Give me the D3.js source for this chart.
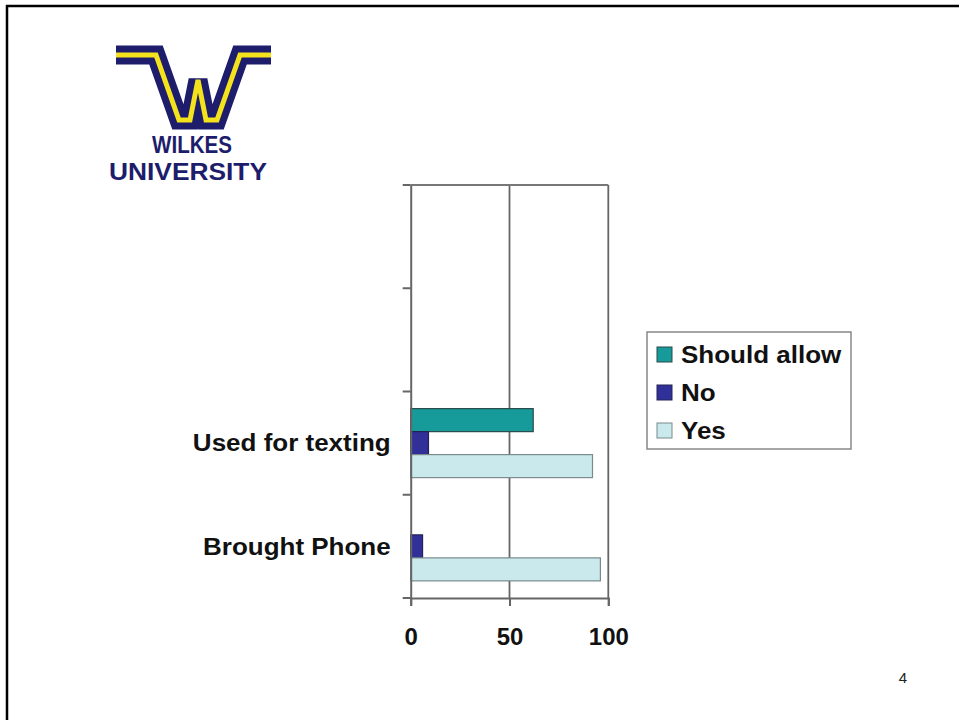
<!DOCTYPE html>
<html>
<head>
<meta charset="utf-8">
<script src="https://cdn.jsdelivr.net/npm/d3@7"></script>
<style>
  body { margin: 0; background: #fff; }
  svg { display: block; }
</style>
</head>
<body>
<script>
'use strict';

// chart data
var categories = ['', ' ', 'Used for texting', 'Brought Phone'];
var seriesNames = ['Should allow', 'No', 'Yes'];
var shouldAllow = [null, null, 62, 0];
var no = [null, null, 9, 6];
var yes = [null, null, 92, 96];
var xTicks = [0, 50, 100];

var seriesColors = {'Should allow': '#179a9a', 'No': '#303098', 'Yes': '#c9e9ec'};
var seriesStroke = {'Should allow': '#2a4a4a', 'No': '#222255', 'Yes': '#7a8a8c'};

var width = 959, height = 720;

var svg = d3.select('body').append('svg')
    .attr('width', width)
    .attr('height', height);

// stretch text a little wider, the slide image is squeezed horizontally
function stretch(sel, k) {
    sel.each(function () {
        var w = this.getComputedTextLength();
        d3.select(this).attr('textLength', w * k).attr('lengthAdjust', 'spacingAndGlyphs');
    });
}

// slide frame
svg.append('line').attr('x1', 6).attr('x2', width).attr('y1', 6).attr('y2', 6)
    .attr('stroke', '#000').attr('stroke-width', 2.5);
svg.append('line').attr('x1', 7).attr('x2', 7).attr('y1', 5).attr('y2', height)
    .attr('stroke', '#000').attr('stroke-width', 2.5);

// logo
var logo = svg.append('g').attr('class', 'logo');
var wPoints = [[116, 55], [156, 55], [179, 120], [190, 120], [198, 80],
               [206, 120], [217, 120], [240, 55], [271, 55]];
var wLine = d3.line();
logo.append('path').attr('d', wLine(wPoints))
    .attr('fill', 'none').attr('stroke', '#1d1d6c').attr('stroke-width', 19)
    .attr('stroke-linejoin', 'miter').attr('stroke-miterlimit', 2.2);
logo.append('path').attr('d', wLine(wPoints))
    .attr('fill', 'none').attr('stroke', '#f4e21c').attr('stroke-width', 5)
    .attr('stroke-linejoin', 'miter').attr('stroke-miterlimit', 2.2);
logo.append('text').attr('x', 192).attr('y', 153)
    .attr('text-anchor', 'middle')
    .attr('font-family', 'Liberation Sans Narrow, Liberation Sans, Arial, sans-serif')
    .attr('font-weight', 'bold').attr('font-size', 23)
    .attr('fill', '#1d1d6c')
    .attr('textLength', 80).attr('lengthAdjust', 'spacingAndGlyphs')
    .text('WILKES');
logo.append('text').attr('x', 188).attr('y', 180)
    .attr('text-anchor', 'middle')
    .attr('font-family', 'Liberation Sans Narrow, Liberation Sans, Arial, sans-serif')
    .attr('font-weight', 'bold').attr('font-size', 23)
    .attr('fill', '#1d1d6c')
    .attr('textLength', 158).attr('lengthAdjust', 'spacingAndGlyphs')
    .text('UNIVERSITY');

// scales
var x = d3.scaleLinear().domain([0, 100]).range([410.7, 608.3]);
var y = d3.scaleBand().domain(categories).range([185, 598]);
var ySeries = d3.scaleBand().domain(seriesNames).range([0, 69]);

var chart = svg.append('g');

// gridlines
chart.selectAll('.grid')
    .data(xTicks.slice(1))
    .enter()
    .append('line')
    .attr('x1', function (d) { return x(d); })
    .attr('x2', function (d) { return x(d); })
    .attr('y1', 185).attr('y2', 598)
    .attr('stroke', '#666').attr('stroke-width', 1.8);

// top border of plot area
chart.append('line')
    .attr('x1', x(0)).attr('x2', x(100))
    .attr('y1', 185).attr('y2', 185)
    .attr('stroke', '#777').attr('stroke-width', 1.8);

// bars
var rows = [];
categories.forEach(function (c, i) {
    var vals = [shouldAllow[i], no[i], yes[i]];
    seriesNames.forEach(function (s, j) {
        if (vals[j]) rows.push({category: c, series: s, value: vals[j]});
    });
});

chart.selectAll('.bar')
    .data(rows)
    .enter()
    .append('rect')
    .attr('x', x(0))
    .attr('y', function (d) {
        return y(d.category) + (y.bandwidth() - 69) / 2 + ySeries(d.series);
    })
    .attr('width', function (d) { return x(d.value) - x(0); })
    .attr('height', ySeries.bandwidth())
    .attr('fill', function (d) { return seriesColors[d.series]; })
    .attr('stroke', function (d) { return seriesStroke[d.series]; })
    .attr('stroke-width', 1.2);

// y axis
var yAxis = d3.axisLeft(y).tickSize(0).tickFormat('');
var yg = chart.append('g').attr('transform', 'translate(' + x(0) + ',0)').call(yAxis);
yg.select('.domain').attr('stroke', '#666').attr('stroke-width', 2);
var bounds = categories.map(function (c) { return y(c); }).concat([598]);
chart.selectAll('.ytick')
    .data(bounds)
    .enter()
    .append('line')
    .attr('x1', x(0) - 8).attr('x2', x(0))
    .attr('y1', function (d) { return d; })
    .attr('y2', function (d) { return d; })
    .attr('stroke', '#666').attr('stroke-width', 2);

var catLabels = chart.selectAll('.cat')
    .data(categories)
    .enter()
    .append('text')
    .attr('x', x(0) - 20)
    .attr('y', function (d) { return y(d) + y.bandwidth() / 2; })
    .attr('dy', '0.36em')
    .attr('text-anchor', 'end')
    .attr('font-family', 'Liberation Sans, Arial, sans-serif')
    .attr('font-weight', 'bold')
    .attr('font-size', 23)
    .attr('fill', '#111')
    .text(function (d) { return d; });
stretch(catLabels.filter(function (d) { return d.trim() !== ''; }), 1.13);

// x axis
var xAxis = d3.axisBottom(x).tickValues(xTicks).tickSize(8).tickPadding(22);
var xg = chart.append('g').attr('transform', 'translate(0,598)').call(xAxis);
xg.select('.domain').attr('stroke', '#666').attr('stroke-width', 2);
xg.selectAll('.tick line').attr('stroke', '#666').attr('stroke-width', 2);
xg.selectAll('.tick text')
    .attr('font-family', 'Liberation Sans, Arial, sans-serif')
    .attr('font-weight', 'bold')
    .attr('font-size', 24)
    .attr('fill', '#111');

// legend
var legend = svg.append('g').attr('transform', 'translate(647,332)');
legend.append('rect')
    .attr('width', 204).attr('height', 117)
    .attr('fill', '#fff').attr('stroke', '#888').attr('stroke-width', 1.5);
var items = legend.selectAll('.item')
    .data(seriesNames)
    .enter()
    .append('g')
    .attr('transform', function (d, i) { return 'translate(10,' + (15 + i * 38) + ')'; });
items.append('rect')
    .attr('width', 15).attr('height', 15)
    .attr('fill', function (d) { return seriesColors[d]; })
    .attr('stroke', function (d) { return seriesStroke[d]; })
    .attr('stroke-width', 1);
var legendText = items.append('text')
    .attr('x', 24).attr('y', 16)
    .attr('font-family', 'Liberation Sans, Arial, sans-serif')
    .attr('font-weight', 'bold')
    .attr('font-size', 23)
    .attr('fill', '#111')
    .text(function (d) { return d; });
stretch(legendText, 1.13);

// page number
svg.append('text')
    .attr('x', 903).attr('y', 683)
    .attr('text-anchor', 'middle')
    .attr('font-family', 'Liberation Sans, Arial, sans-serif')
    .attr('font-size', 15)
    .attr('fill', '#222')
    .text('4');
</script>
</body>
</html>
